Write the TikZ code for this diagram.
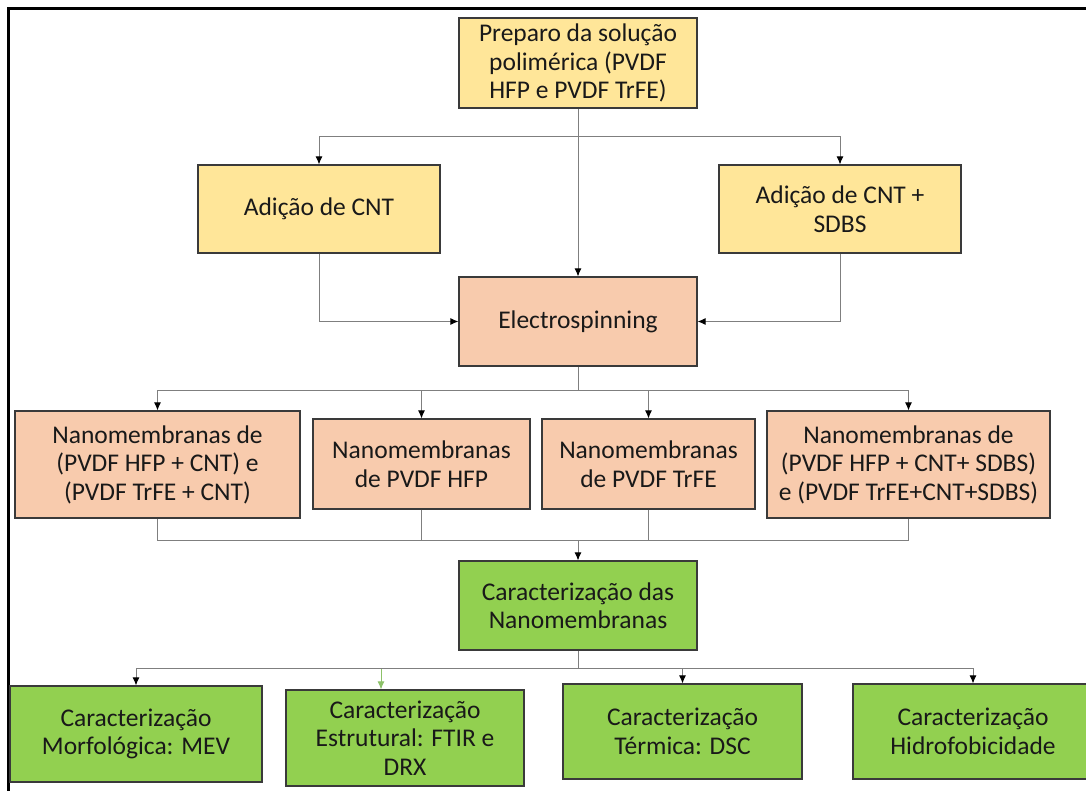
\documentclass[tikz,border=0pt]{standalone}
\usepackage{fontspec}
\setmainfont{Carlito}
\usetikzlibrary{arrows.meta,calc}
\definecolor{ylw}{HTML}{FFE699}
\definecolor{pch}{HTML}{F8CBAD}
\definecolor{grn}{HTML}{92D050}
\definecolor{bdr}{HTML}{3A3A3A}
\definecolor{lin}{HTML}{7F7F7F}
\definecolor{lgrn}{HTML}{8CC168}
\tikzset{
  box/.style={draw=bdr, line width=1.2pt, align=center, inner sep=0pt,
    font=\fontsize{25.5}{28.5}\selectfont, text=black!90},
  conn/.style={draw=lin, line width=0.9pt},
  arr/.style={conn, -{Latex[length=8pt,width=7pt,color=black]}},
  garr/.style={draw=lgrn, line width=0.9pt, -{Latex[length=8pt,width=7pt,color=lgrn]}},
}
\begin{document}
\begin{tikzpicture}[x=1pt,y=-1pt]
\useasboundingbox (0,0) rectangle (1086,791);
\draw[line width=3pt, black] (8,791) -- (8,9) -- (1090,9);

\node[box, fill=ylw, minimum width=238pt, minimum height=90pt] (pre) at (578,63) {Preparo da solução\\polimérica (PVDF\\HFP e PVDF TrFE)};
\node[box, fill=ylw, minimum width=242pt, minimum height=88pt] (a1) at (319,209) {Adição de CNT};
\node[box, fill=ylw, minimum width=242pt, minimum height=88pt] (a2) at (840,209) {Adição de CNT +\\SDBS};
\node[box, fill=pch, minimum width=238pt, minimum height=89pt] (el) at (578,321.5) {Electrospinning};

\node[box, fill=pch, minimum width=285pt, minimum height=107pt] (n1) at (157.5,464.5) {Nanomembranas de\\(PVDF HFP + CNT) e\\(PVDF TrFE + CNT)};
\node[box, fill=pch, minimum width=217pt, minimum height=90pt] (n2) at (421.5,464) {Nanomembranas\\de PVDF HFP};
\node[box, fill=pch, minimum width=213pt, minimum height=90pt] (n3) at (648.5,464) {Nanomembranas\\de PVDF TrFE};
\node[box, fill=pch, minimum width=283pt, minimum height=107pt] (n4) at (908.5,464.5) {Nanomembranas de\\(PVDF HFP + CNT+ SDBS)\\e (PVDF TrFE+CNT+SDBS)};

\node[box, fill=grn, minimum width=238pt, minimum height=89pt] (car) at (578,605.5) {Caracterização das\\Nanomembranas};

\node[box, fill=grn, minimum width=252pt, minimum height=96pt] (c1) at (136,734) {Caracterização\\Morfológica: MEV};
\node[box, fill=grn, minimum width=238pt, minimum height=96pt] (c2) at (405,738) {Caracterização\\Estrutural: FTIR e\\DRX};
\node[box, fill=grn, minimum width=239pt, minimum height=95pt] (c3) at (682.5,731.5) {Caracterização\\Térmica: DSC};
\node[box, fill=grn, minimum width=240pt, minimum height=95pt] (c4) at (973,731.5) {Caracterização\\Hidrofobicidade};

% junctions
\coordinate (j1) at (578,136);
\coordinate (j2) at (578,390);
\coordinate (j3) at (578,540);
\coordinate (j4) at (578,668);
\coordinate (c2t) at ($(c2.north)+(-24,0)$);
\coordinate (g1) at (543,668);

% connectors
\draw[arr] (pre.south) -- (el.north);
\draw[arr] (j1) -| (a1.north);
\draw[arr] (j1) -| (a2.north);
\draw[arr] (a1.south) |- (el.west);
\draw[arr] (a2.south) |- (el.east);

\draw[conn] (el.south) -- (j2);
\draw[arr] (j2) -| (n1.north);
\draw[arr] (j2) -| (n2.north);
\draw[arr] (j2) -| (n3.north);
\draw[arr] (j2) -| (n4.north);

\draw[conn] (n1.south) |- (j3);
\draw[conn] (n4.south) |- (j3);
\draw[conn] (n2.south) -- (n2.south |- j3);
\draw[conn] (n3.south) -- (n3.south |- j3);
\draw[arr] (j3) -- (car.north);

\draw[conn] (car.south) -- (j4);
\draw[garr] (g1) -| (c2t);
\draw[arr] (j4) -| (c1.north);
\draw[arr] (j4) -| (c3.north);
\draw[arr] (j4) -| (c4.north);
\end{tikzpicture}
\end{document}
